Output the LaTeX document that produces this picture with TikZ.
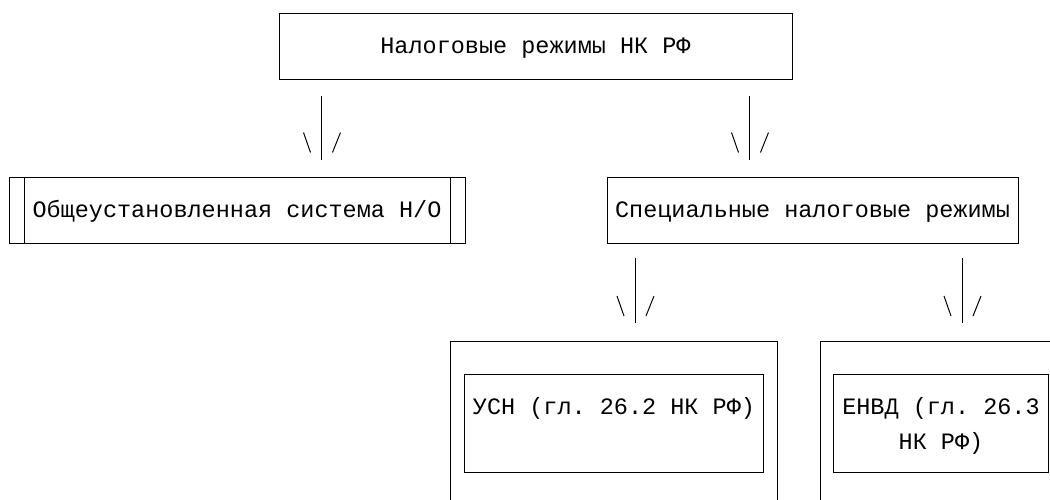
\documentclass[tikz,border=0pt]{standalone}
\usepackage{fontspec}
\setmonofont{Liberation Mono}[WordSpace={1,0,0}]
\frenchspacing

\tikzset{vee/.pic={
  \draw (-18,-27) -- (-11,-7);
  \draw (11,-7) -- (19,-27);
}}

\begin{document}
\begin{tikzpicture}[x=1pt,y=-1pt,line width=1pt]
\tikzstyle{block} = [rectangle, draw, inner sep=0pt, minimum height=66pt,
font=\ttfamily\fontsize{23.5pt}{35pt}\selectfont, text height=15.5pt, text depth=0pt]
\tikzstyle{block_sys} = [block, path picture={
  \draw ([xshift=15pt]path picture bounding box.north west) -- ([xshift=15pt]path picture bounding box.south west);
  \draw ([xshift=-15pt]path picture bounding box.north east) -- ([xshift=-15pt]path picture bounding box.south east);}]
\tikzstyle{frame} = [rectangle, draw, inner sep=0pt, anchor=north west,
minimum width=327pt, minimum height=190pt]
\tikzstyle{block_in} = [rectangle, draw, inner sep=0pt, anchor=north west, align=center,
font=\ttfamily\fontsize{23.5pt}{35pt}\selectfont, text height=40pt, text depth=58pt,
execute at begin node={\spaceskip=0.6em\relax\xspaceskip=0.6em\relax}]
\tikzstyle{line} = [draw];

\useasboundingbox (0,0) rectangle (1050,499);
\clip (0,0) rectangle (1050,499);

% row 1
\node [block, minimum width=513pt] (regimes) at (535.5,46) {Налоговые режимы НК РФ};
% row 2
\node [block_sys, minimum width=456pt] (general) at (237,210) {Общеустановленная система Н/О};
\node [block, minimum width=411pt] (special) at (812.5,210) {Специальные налоговые режимы};
% row 3
\node [frame] (usn_frame) at (450,341) {};
\node [block_in, text width=299pt] (usn) at (464,374) {УСН (гл. 26.2 НК РФ)};
\node [frame] (envd_frame) at (820,341) {};
\node [block_in, text width=215pt] (envd) at (833,374) {ЕНВД (гл. 26.3\\НК РФ)};

\coordinate (a1) at ([xshift=43pt,yshift=-16pt]regimes.south west);
\coordinate (a2) at ([xshift=-43pt,yshift=-16pt]regimes.south east);
\coordinate (a3) at (635,258);
\coordinate (a4) at (962,258);

\tikzstyle{every path}=[line]
\path (a1) -- ([yshift=17pt]a1 |- general.north) pic {vee};
\path (a2) -- ([yshift=17pt]a2 |- special.north) pic {vee};
\path (a3) -- ([yshift=18pt]a3 |- usn_frame.north) pic {vee};
\path (a4) -- ([yshift=18pt]a4 |- envd_frame.north) pic {vee};

\end{tikzpicture}
\end{document}
